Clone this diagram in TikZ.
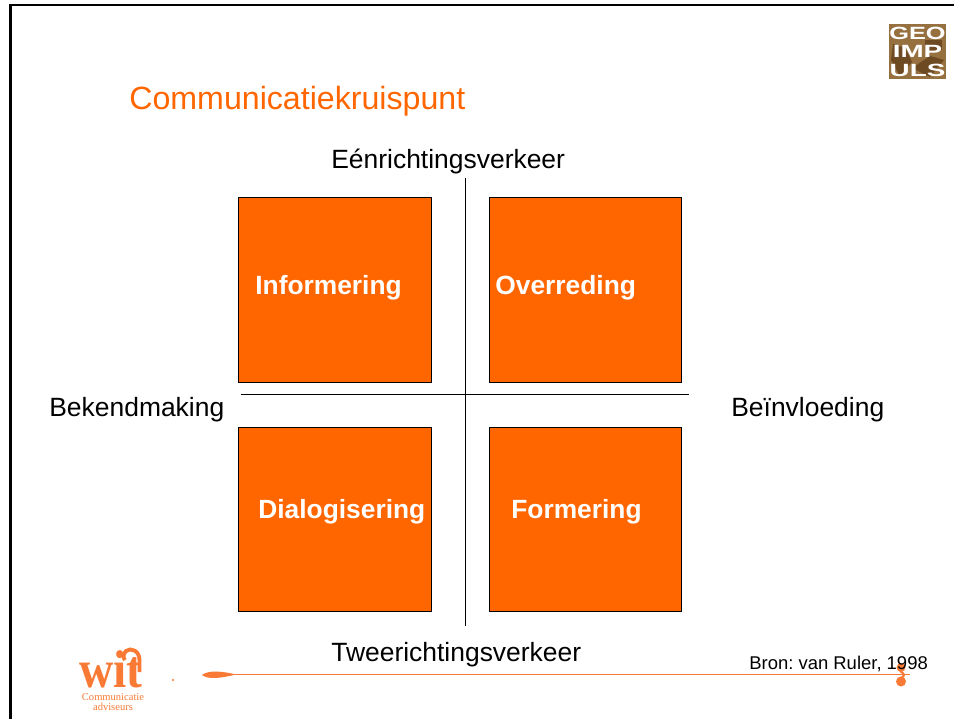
\documentclass[tikz,border=0pt]{standalone}
\usepackage{fontspec}
\setmainfont{Liberation Sans}
\newfontfamily\logofont{Liberation Serif}
\definecolor{witorange}{HTML}{FF6600}
\definecolor{logoorange}{HTML}{F97A35}
\definecolor{geobrown}{HTML}{96703F}
\definecolor{geodark}{HTML}{6E4A22}
\tikzset{
  quadrant/.style={draw=black, fill=witorange, line width=0.4pt},
  axislabel/.style={font=\fontsize{15.05}{18}\selectfont, text=black, inner sep=0pt, anchor=base west},
  quadlabel/.style={font=\fontsize{15}{18}\selectfont\bfseries, text=white, inner sep=0pt, anchor=base west},
  geoletters/.style={font=\fontsize{9.6}{10}\selectfont\bfseries, text=white, inner sep=0pt},
  witsmall/.style={anchor=base, inner sep=0pt, text=logoorange, font=\logofont\fontsize{6}{7}\selectfont}
}
\begin{document}
\begin{tikzpicture}[x=0.02cm,y=-0.02cm]
\useasboundingbox (0,0) rectangle (954,719);
\fill[white] (0,0) rectangle (954,719);

% frame
\draw[black, line width=1.7pt] (10.5,719) -- (10.5,5) -- (954,5);

% title
\node[anchor=base west, inner sep=0pt, text=witorange, font=\fontsize{18.3}{22}\selectfont] (title) at (129,110) {Communicatiekruispunt};

% quadrants
\draw[quadrant] (238.5,197) rectangle (431,382);
\draw[quadrant] (489,197) rectangle (681,382);
\draw[quadrant] (238.5,427.5) rectangle (431,611.5);
\draw[quadrant] (489,427.5) rectangle (681,611.5);

\node[quadlabel] (informering) at (255,295) {Informering};
\node[quadlabel] (overreding) at (495,295) {Overreding};
\node[quadlabel] (dialogisering) at (258,519) {Dialogisering};
\node[quadlabel] (formering) at (511,519) {Formering};

% axes
\draw[black, line width=0.5pt] (465.5,178) -- (465.5,626);
\draw[black, line width=0.5pt] (241,394) -- (689,394);

\node[axislabel] (top) at (331,169) {Eénrichtingsverkeer};
\node[axislabel] (bottom) at (331,662) {Tweerichtingsverkeer};
\node[axislabel] (left) at (49,417) {Bekendmaking};
\node[axislabel] (right) at (731,417) {Beïnvloeding};

% swoosh
\draw[logoorange, line width=0.7pt] (225,674.5) -- (910,674.5);
\fill[logoorange] (202,675) .. controls (208,670) and (222,671) .. (236,674.5) .. controls (222,678) and (208,680) .. (202,675) -- cycle;
\fill[logoorange] (173,680) circle (1.2);
\fill[logoorange] (901,667.5) circle (4.4);
\fill[logoorange] (901,681.5) circle (5);
\draw[logoorange, line width=1.2pt] (900,671) .. controls (905,674) and (905,676) .. (901,678);

\node[anchor=base west, inner sep=0pt, font=\frenchspacing\fontsize{10.5}{12}\selectfont] (source) at (749,669) {Bron: van Ruler, 1998};

% logo top right
\fill[geobrown] (889,24) rectangle (946,79);
\fill[geodark] (893,44) -- (905,48) -- (912,62) -- (900,76) -- (891,60) -- cycle;
\fill[geodark] (925,40) rectangle (942,50);
\fill[geodark] (912,68) -- (930,56) -- (944,60) -- (930,77) -- cycle;
\node[geoletters] (geo) at (917.5,33) {\scalebox{1.5}[1.05]{GEO}};
\node[geoletters] (imp) at (917.5,51.5) {\scalebox{1.65}[1.05]{IMP}};
\node[geoletters] (uls) at (917.5,70) {\scalebox{1.65}[1.05]{ULS}};

% logo bottom left
\node[anchor=base west, inner sep=0pt, text=logoorange, font=\logofont\fontsize{27}{30}\selectfont\bfseries] (wit) at (79,687) {\scalebox{1}[1.12]{wit}};
\draw[logoorange, line width=2.2pt] (139.5,672) -- (139.5,660) .. controls (139.5,651) and (131,647) .. (126,651) .. controls (123,654) and (123,658) .. (125,660);
\node[witsmall] (comm) at (113,700.5) {Communicatie};
\node[witsmall] (adv) at (113,710) {adviseurs};
\end{tikzpicture}
\end{document}
